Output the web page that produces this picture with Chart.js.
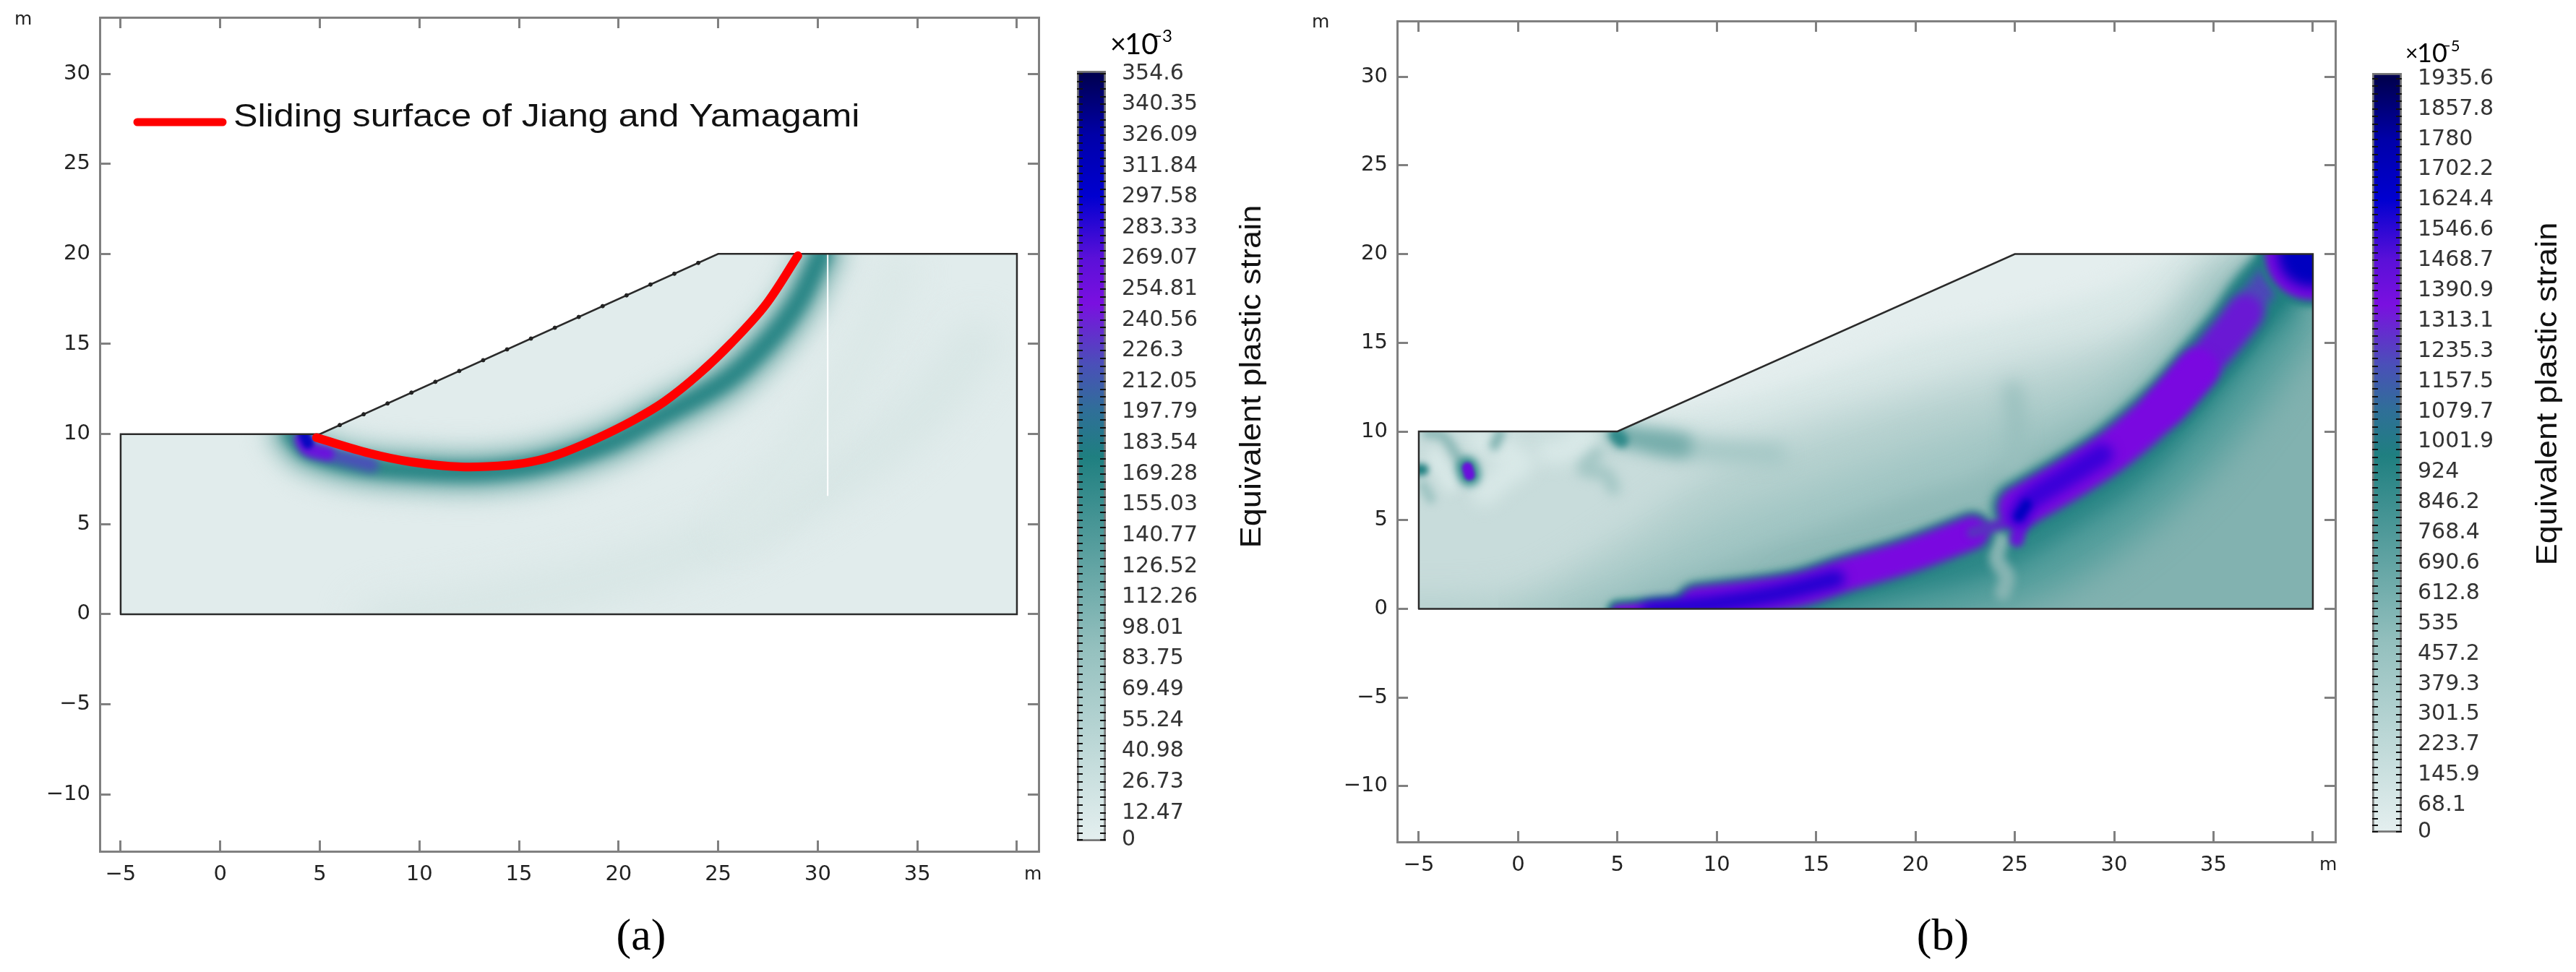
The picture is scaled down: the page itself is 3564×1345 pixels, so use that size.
<!DOCTYPE html>
<html>
<head>
<meta charset="utf-8">
<title>Equivalent plastic strain</title>
<script src="https://cdn.jsdelivr.net/npm/chart.js@4"></script>
<style>
  html, body { margin: 0; background: #fff; }
  canvas { position: absolute; top: 0; }
</style>
</head>
<body>
<canvas id="panelA"></canvas>
<canvas id="barA"></canvas>
<canvas id="panelB"></canvas>
<canvas id="barB"></canvas>
<script>
'use strict';

// axes
const xTicks = [-5, 0, 5, 10, 15, 20, 25, 30, 35, 40];
const yTicks = [-10, -5, 0, 5, 10, 15, 20, 25, 30];

// slope outline, same for both panels
const slopeX = [-5, 5, 25, 40];
const slopeY = [10, 10, 20, 20];
const outlineX = [-5, -5, 5, 25, 40, 40, -5];
const outlineY = [0, 10, 10, 20, 20, 0, 0];
const slopeDotX = [6, 7.2, 8.4, 9.6, 10.8, 12, 13.2, 14.4, 15.6, 16.8, 18, 19.2, 20.4, 21.6, 22.8, 24];
const slopeDotY = [10.5, 11.1, 11.7, 12.3, 12.9, 13.5, 14.1, 14.7, 15.3, 15.9, 16.5, 17.1, 17.7, 18.3, 18.9, 19.5];

// panel a: sliding surface and shear band
const slideX = [4.83, 7.5, 9.6, 12.07, 14.5, 16, 17.3, 19, 20.8, 22.3, 24, 25.7, 27.4, 29];
const slideY = [9.8, 8.93, 8.45, 8.18, 8.28, 8.55, 9, 9.8, 10.8, 11.8, 13.3, 15.1, 17.2, 19.9];
const bandAX = [3.6, 4.4, 6.8, 9.6, 13, 16, 19.5, 22, 25.3, 27.4, 29, 30.2];
const bandAY = [10, 9.1, 8.3, 8, 7.9, 8.3, 9.5, 10.9, 12.9, 15, 17.3, 20];
const spotAX = [4.1, 4.4, 5.4, 7.6];
const spotAY = [9.7, 9.2, 8.9, 8.3];
const blueAX = [4.2, 4.4];
const blueAY = [10, 9.5];
const faintAX = [8, 14, 20, 26, 31, 35, 38];
const faintAY = [-0.5, 0.6, 2.2, 4.6, 7.6, 11, 15];
const faintA2X = [26, 29, 32, 34];
const faintA2Y = [5, 9, 14, 19];
const crackX = [30.5, 30.5];
const crackY = [20, 6.6];

// panel b: contour levels above the band
const levelB1X = [-7, 5, 10, 15, 20, 25, 30, 34, 42];
const levelB1Y = [10.5, 10.5, 11.5, 13.2, 15.2, 16.5, 18.2, 20.5, 22];
const levelB2X = [-7, 5, 10, 15, 20, 25, 30, 33, 35.5, 42];
const levelB2Y = [10.8, 10.6, 10, 11.3, 12.8, 14.3, 15.5, 17, 20.5, 22];
const levelB3X = [-7, 0, 5, 10, 15, 20, 25, 29, 32, 35, 42];
const levelB3Y = [0.6, 1, 4, 7.8, 9.8, 11.4, 12.8, 14, 15.8, 19.5, 22];
const levelB4X = [-1, 5, 10, 15, 20, 25, 28.5, 32, 35.6, 42];
const levelB4Y = [-1, 2, 5, 7, 9, 10.8, 12, 14.6, 19, 22];
const levelB5X = [2, 6, 10, 15, 20, 23, 26.5, 30, 33.5, 36.8, 42];
const levelB5Y = [-1, 0.8, 2.5, 4.5, 6.5, 7.5, 9.5, 11.6, 15, 19.5, 22];

// panel b: slip band, two offset pieces
const bandB1X = [5, 8.3, 11, 14];
const bandB1Y = [-0.1, 0.2, 0.55, 1.05];
const bandB1aX = [9, 14, 16.35, 19.6, 22.85];
const bandB1aY = [0.3, 1.05, 1.87, 2.95, 4.3];
const neckBX = [22.85, 24.6, 25.3];
const neckBY = [4.3, 4.9, 5.4];
const rimB2X = [25.2, 27.7, 30.1, 32.6, 34.2, 35.9, 37.1, 38.2];
const rimB2Y = [5.7, 7.3, 9.06, 11.5, 13.5, 15.7, 17.6, 19];
const bandB2X = [25.2, 27.7, 30.1, 32.6, 34.2];
const bandB2Y = [5.7, 7.3, 9.06, 11.5, 13.5];
const bandB2bX = [32.6, 34.2, 35.9, 36.6];
const bandB2bY = [11.5, 13.5, 15.7, 16.7];
const bandB3X = [35.2, 35.9, 37.1, 38];
const bandB3Y = [14.8, 15.7, 17.6, 18.8];
const rimTopX = [36.8, 37.8, 38.4];
const rimTopY = [17.2, 19, 20.5];
const stubBX = [25.4, 25.1];
const stubBY = [5.4, 3.9];
const belowBX = [-7, 4.9, 8.3, 14, 19.6, 22.85, 25.2, 27.7, 30.1, 32.6, 34.2, 35.9, 37.1, 38.6, 42];
const belowBY = [-1, -0.3, 0, 0.8, 2.6, 4, 5.3, 7, 8.8, 11.2, 13.2, 15.4, 17.3, 17.6, 17.6];
const haloBX = [15, 20, 24, 27, 30, 33, 36, 38.5];
const haloBY = [-0.5, 0.6, 1.8, 3.2, 5.5, 8.5, 12.5, 16.5];
const halo2BX = [13, 19, 24, 27.5, 30.8, 33.5, 36.5, 38.5];
const halo2BY = [0.1, 1.6, 3, 5.2, 7.7, 10.8, 15, 17.5];
const coreB1X = [6.6, 10, 13, 16];
const coreB1Y = [-0.1, 0.3, 0.85, 1.7];
const coreB2X = [25.2, 25.6, 27.7, 29.4];
const coreB2Y = [5.2, 6, 7.5, 8.7];
const deepB2X = [25.2, 25.6];
const deepB2Y = [5.2, 5.9];
const cornerBX = [39.9, 40.1];
const cornerBY = [20, 20];
const streakBX = [24.3, 24.1, 24.6, 24.4];
const streakBY = [3.9, 2.8, 1.8, 0.9];
const fan1X = [5, 6.5, 8.2];
const fan1Y = [9.8, 9.5, 9.2];
const fan2X = [7, 10, 13];
const fan2Y = [9.3, 8.9, 8.7];
const tipBX = [4.95, 5.2];
const tipBY = [9.8, 9.5];
const wedgeBX = [24.9, 25.1, 25];
const wedgeBY = [12.3, 10, 7.5];
const streak1X = [-4.6, -3.8, -3, -2.7];
const streak1Y = [9.9, 9.75, 8.5, 8];
const streak2X = [-0.9, -1.2];
const streak2Y = [9.9, 9.2];
const streak3X = [-4.8, -4.4];
const streak3Y = [7, 6.2];
const streak4X = [4, 3.3, 4.4, 4.8];
const streak4Y = [8.8, 7.9, 7.6, 6.8];
const edgeSpotX = [-5.1, -4.8];
const edgeSpotY = [7.84, 7.84];
const cloud1X = [3, 3.6, 1.5];
const cloud1Y = [9.8, 9.2, 8.8];
const cloud2X = [-2, 0.2, -0.6, -1.7];
const cloud2Y = [9.6, 8.25, 7.6, 6.5];
const cloud3X = [-4.2, -3.4];
const cloud3Y = [8.6, 7];
const spotBX = [-2.55, -2.45];
const spotBY = [7.95, 7.55];

// colour bars
const labelsA = ['0', '12.47', '26.73', '40.98', '55.24', '69.49', '83.75', '98.01', '112.26', '126.52', '140.77', '155.03', '169.28', '183.54', '197.79', '212.05', '226.3', '240.56', '254.81', '269.07', '283.33', '297.58', '311.84', '326.09', '340.35', '354.6'];
const labelsB = ['0', '68.1', '145.9', '223.7', '301.5', '379.3', '457.2', '535', '612.8', '690.6', '768.4', '846.2', '924', '1001.9', '1079.7', '1157.5', '1235.3', '1313.1', '1390.9', '1468.7', '1546.6', '1624.4', '1702.2', '1780', '1857.8', '1935.6'];
const rampStops = [0, 0.25, 0.5, 0.56, 0.62, 0.7, 0.76, 0.84, 0.92, 1];
const rampColors = ['#e4efef', '#94c0be', '#1f7f80', '#2f6f98', '#4a50b8', '#7a10e0', '#5a10d8', '#0000d0', '#0000a8', '#000050'];

const tickFont = { family: 'DejaVu Sans', size: 29 };

// draw order is bottom first, chart.js paints index 0 last
function lineOf(xs, ys, color, width, blur) {
  return {
    data: xs.map((x, i) => ({ x: x, y: ys[i] })),
    showLine: true, pointRadius: 0, borderColor: color, borderWidth: width,
    tension: 0.35, borderCapStyle: 'round', blur: blur, domainClip: true
  };
}
function areaOf(xs, ys, color, blur) {
  return {
    data: xs.map((x, i) => ({ x: x, y: ys[i] })),
    showLine: true, pointRadius: 0, borderColor: 'transparent', borderWidth: 1,
    tension: 0.3, backgroundColor: color, fill: { value: -7 }, blur: blur, domainClip: true
  };
}
function domainOf(color) {
  const d = areaOf(slopeX, slopeY, color, 0);
  d.fill = { value: 0 };
  d.tension = 0;
  d.domainClip = false;
  return d;
}
function outlineOf() {
  const d = lineOf(outlineX, outlineY, '#2a2a2a', 2.5, 0);
  d.tension = 0;
  d.domainClip = false;
  return d;
}

const datasetsA = [
  domainOf('#e1ecec'),
  lineOf(faintAX, faintAY, '#d8e6e5', 70, 24),
  lineOf(faintA2X, faintA2Y, '#dbe8e7', 60, 20),
  lineOf(bandAX, bandAY, '#c4dbda', 84, 14),
  lineOf(bandAX, bandAY, '#8dbcba', 54, 11),
  lineOf(bandAX, bandAY, '#2a8686', 28, 8),
  lineOf(spotAX, spotAY, '#4a50b8', 20, 6),
  lineOf(spotAX.slice(0, 3), spotAY.slice(0, 3), '#6a14dc', 18, 4),
  lineOf(blueAX, blueAY, '#0808c0', 16, 3),
  lineOf(crackX, crackY, '#ffffff', 2, 0),
  outlineOf(),
  { data: slopeDotX.map((x, i) => ({ x: x, y: slopeDotY[i] })), pointRadius: 2.5, backgroundColor: '#222', borderColor: '#222', showLine: false },
  Object.assign(lineOf(slideX, slideY, '#ff0000', 12, 0), { domainClip: false })
];

const datasetsB = [
  domainOf('#e4eeee'),
  areaOf(levelB1X, levelB1Y, '#d8e7e6', 14),
  areaOf(levelB2X, levelB2Y, '#c8dcdb', 20),
  areaOf(levelB3X, levelB3Y, '#b4d0ce', 22),
  areaOf(levelB4X, levelB4Y, '#a2c6c4', 22),
  areaOf(levelB5X, levelB5Y, '#8fb9b7', 16),
  // mottled corner on the left
  lineOf(wedgeBX, wedgeBY, '#98bfbd', 24, 12),
  lineOf(cloud1X, cloud1Y, '#d8e8e7', 34, 11),
  lineOf(cloud2X, cloud2Y, '#d8e8e7', 34, 11),
  lineOf(cloud3X, cloud3Y, '#d8e8e7', 22, 8),
  lineOf(fan2X, fan2Y, '#a4c7c5', 30, 12),
  lineOf(fan1X, fan1Y, '#74acaa', 32, 10),
  lineOf(tipBX, tipBY, '#2f8a8a', 20, 5),
  lineOf(streak1X, streak1Y, '#8cb9b7', 14, 6),
  lineOf(streak2X, streak2Y, '#7fb2b0', 14, 6),
  lineOf(streak3X, streak3Y, '#9cc3c1', 14, 6),
  lineOf(streak4X, streak4Y, '#a4c7c5', 20, 8),
  lineOf(edgeSpotX, edgeSpotY, '#1f7f80', 16, 4),
  lineOf(spotBX, spotBY, '#2f8a8a', 30, 6),
  lineOf(spotBX, spotBY, '#6a10dc', 15, 2),
  // lower side of the band
  areaOf(belowBX, belowBY, '#82b2b0', 4),
  lineOf(haloBX, haloBY, '#4f9c9a', 90, 26),
  lineOf(halo2BX, halo2BY, '#2a8686', 46, 14),
  lineOf(streakBX, streakBY, '#86b4b2', 22, 6),
  // band itself, teal rim then purple then blue core
  lineOf(rimTopX, rimTopY, '#1f8080', 26, 6),
  lineOf(bandB1X, bandB1Y, '#1f8080', 30, 5),
  lineOf(bandB1aX, bandB1aY, '#1f8080', 60, 6),
  lineOf(rimB2X, rimB2Y, '#1f8080', 76, 7),
  lineOf(bandB1X, bandB1Y, '#7a08e0', 16, 4),
  lineOf(bandB1aX, bandB1aY, '#7a08e0', 46, 6),
  lineOf(neckBX, neckBY, '#5a30c0', 16, 4),
  lineOf(stubBX, stubBY, '#6a14d8', 20, 4),
  lineOf(bandB3X, bandB3Y, '#4d48b8', 38, 7),
  lineOf(bandB2bX, bandB2bY, '#6a18d4', 50, 7),
  lineOf(bandB2X, bandB2Y, '#7a08e0', 58, 6),
  lineOf(coreB1X, coreB1Y, '#2200d0', 24, 8),
  lineOf(coreB2X, coreB2Y, '#3a00d8', 30, 8),
  lineOf(deepB2X, deepB2Y, '#0000c0', 14, 4),
  // corner at the crest
  lineOf(cornerBX, cornerBY, '#1f8080', 146, 5),
  lineOf(cornerBX, cornerBY, '#7a08e0', 126, 5),
  lineOf(cornerBX, cornerBY, '#0000c0', 92, 9),
  outlineOf()
];

// blur and clip to the slope shape, has to run before the filler plugin
const fieldPlugin = {
  id: 'field',
  beforeDatasetDraw(chart, args) {
    const ds = chart.data.datasets[args.index];
    const ctx = chart.ctx;
    ctx.save();
    if (ds.domainClip) {
      const sx = chart.scales.x, sy = chart.scales.y;
      ctx.beginPath();
      ctx.moveTo(sx.getPixelForValue(-5), sy.getPixelForValue(0));
      slopeX.forEach((x, i) => ctx.lineTo(sx.getPixelForValue(x), sy.getPixelForValue(slopeY[i])));
      ctx.lineTo(sx.getPixelForValue(40), sy.getPixelForValue(0));
      ctx.closePath();
      ctx.clip();
    }
    if (ds.blur) ctx.filter = 'blur(' + ds.blur + 'px)';
  },
  afterDatasetDraw(chart) {
    chart.ctx.restore();
  },
  afterDraw(chart) {
    const ctx = chart.ctx;
    const notes = chart.options.plugins.notes || [];
    notes.forEach(n => {
      ctx.save();
      ctx.translate(n.x, n.y);
      if (n.rot) ctx.rotate(n.rot);
      if (n.sx) ctx.scale(n.sx, 1);
      if (n.t) {
        ctx.font = n.font;
        ctx.fillStyle = n.color || '#111';
        ctx.textAlign = n.align || 'left';
        ctx.textBaseline = 'middle';
        ctx.fillText(n.t, 0, 0);
      }
      if (n.len) {
        ctx.strokeStyle = n.color;
        ctx.lineWidth = n.width;
        ctx.lineCap = 'round';
        ctx.beginPath();
        ctx.moveTo(0, 0);
        ctx.lineTo(n.len, 0);
        ctx.stroke();
      }
      ctx.restore();
    });
  }
};
const filler = Chart.registry.plugins.get('filler');
Chart.unregister(filler);
Chart.register(fieldPlugin);
Chart.register(filler);

// fixed box size, and no tick padding leaking into the chart area
function setFixed(ticks, size, key) {
  return {
    afterBuildTicks: s => { s.ticks = ticks.map(v => ({ value: v })); },
    afterFit: s => {
      s[key] = size;
      s.paddingTop = s.paddingBottom = s.paddingLeft = s.paddingRight = 0;
    }
  };
}
function minusLabel(v) {
  return v < 0 ? '\u2212' + (-v) : String(v);
}

function panel(id, left, width, area, range, datasets, notes) {
  const el = document.getElementById(id);
  el.style.left = left + 'px';
  el.width = width;
  el.height = 1345;
  const axisGrid = { drawOnChartArea: false, tickLength: -15, color: '#808080', lineWidth: 3, z: 1 };
  const axisBorder = { color: '#808080', width: 3, z: 1 };
  return new Chart(el, {
    type: 'scatter',
    data: { datasets: datasets.slice().reverse() },
    options: {
      responsive: false, animation: false, devicePixelRatio: 1,
      layout: { autoPadding: false, padding: { left: 0, top: area.top, right: width - area.right, bottom: 0 } },
      plugins: { legend: { display: false }, tooltip: { enabled: false }, notes: notes },
      scales: {
        x: Object.assign({ type: 'linear', position: 'bottom', min: range.x0, max: range.x1, grid: axisGrid, border: axisBorder,
          // the 40 tick has the unit in place of a label
          ticks: { font: tickFont, color: '#222', padding: 30, maxRotation: 0, autoSkip: false, callback: v => v === 40 ? '' : minusLabel(v) } },
          setFixed(xTicks, 1345 - area.bottom, 'height')),
        y: Object.assign({ type: 'linear', position: 'left', min: range.y0, max: range.y1, grid: axisGrid, border: axisBorder,
          ticks: { font: tickFont, color: '#222', padding: 28, autoSkip: false, callback: minusLabel } },
          setFixed(yTicks, area.left, 'width')),
        xTop: Object.assign({ type: 'linear', position: 'top', min: range.x0, max: range.x1, grid: axisGrid, border: axisBorder,
          ticks: { display: false } }, setFixed(xTicks, 0, 'height')),
        yRight: Object.assign({ type: 'linear', position: 'right', min: range.y0, max: range.y1, grid: axisGrid, border: axisBorder,
          ticks: { display: false } }, setFixed(yTicks, 0, 'width'))
      }
    }
  });
}

function colourBar(id, left, width, area, range, labels, notes) {
  const el = document.getElementById(id);
  el.style.left = left + 'px';
  el.width = width;
  el.height = 1345;
  const values = labels.map(Number);
  const tickValues = [];
  values.forEach((v, i) => {
    tickValues.push(v);
    if (i + 1 < values.length) {
      const step = (values[i + 1] - v) / 4;
      for (let k = 1; k < 4; k++) tickValues.push(v + k * step);
    }
  });
  const top = values[values.length - 1];
  const grid = { drawOnChartArea: false, tickLength: -8, color: '#111', lineWidth: 2, z: 1 };
  return new Chart(el, {
    type: 'bar',
    data: {
      labels: [''],
      datasets: [{
        data: [[range.y0, range.y1]],
        barPercentage: 1, categoryPercentage: 1, borderWidth: 3, borderColor: '#777', borderSkipped: false,
        backgroundColor: c => {
          const s = c.chart.scales.y;
          if (!c.chart.chartArea || !s || !isFinite(s.getPixelForValue(top))) return '#888';
          const g = c.chart.ctx.createLinearGradient(0, s.getPixelForValue(0), 0, s.getPixelForValue(top));
          rampStops.forEach((p, i) => g.addColorStop(p, rampColors[i]));
          return g;
        }
      }]
    },
    options: {
      responsive: false, animation: false, devicePixelRatio: 1,
      layout: { autoPadding: false, padding: { left: area.left, top: area.top, right: 0, bottom: 1345 - area.bottom } },
      plugins: { legend: { display: false }, tooltip: { enabled: false }, notes: notes },
      scales: {
        x: { display: false },
        y: Object.assign({ type: 'linear', position: 'right', min: range.y0, max: range.y1, grid: grid, border: { display: false },
          ticks: { font: { family: 'DejaVu Sans', size: 30 }, color: '#333', padding: 30, autoSkip: false,
            callback: v => { const i = values.findIndex(w => Math.abs(w - v) < 1e-6); return i >= 0 ? labels[i] : ''; } } },
          setFixed(tickValues, width - area.right, 'width')),
        yLeft: Object.assign({ type: 'linear', position: 'left', min: range.y0, max: range.y1, grid: grid, border: { display: false },
          ticks: { display: false } }, setFixed(tickValues, 0, 'width'))
      }
    }
  });
}

const captionFont = '62px "Liberation Serif"';
const titleFont = '40px "Liberation Sans"';
const unitFont = '25px "DejaVu Sans"';

panel('panelA', 0, 1480, { left: 138, top: 24, right: 1437, bottom: 1178 },
  { x0: -6.05, x1: 41.09, y0: -13.16, y1: 33.13 }, datasetsA, [
    { t: 'm', x: 20, y: 27, font: unitFont, color: '#222' },
    { t: 'm', x: 1417, y: 1210, font: unitFont, color: '#222' },
    { x: 190, y: 169, len: 118, color: '#ff0000', width: 11 },
    { t: 'Sliding surface of Jiang and Yamagami', x: 323, y: 163, sx: 1.115, font: '45px "Liberation Sans"', color: '#111' },
    { t: '(a)', x: 887, y: 1298, font: captionFont, align: 'center', color: '#000' }
  ]);

colourBar('barA', 1480, 302, { left: 10, top: 98, right: 50, bottom: 1164 },
  { y0: -0.67, y1: 355.9 }, labelsA, [
    { t: '\u00d7', x: 56, y: 62, font: '38px "Lato"', color: '#000' },
    { t: '10', x: 76, y: 62, font: '40px "Lato"', color: '#000' },
    { t: '\u22123', x: 114, y: 50, font: '24px "Lato"', color: '#000' },
    { t: 'Equivalent plastic strain', x: 253, y: 521, rot: -Math.PI / 2, sx: 1.13, font: titleFont, align: 'center', color: '#111' }
  ]);

panel('panelB', 1782, 1490, { left: 151, top: 29, right: 1449, bottom: 1165 },
  { x0: -6.09, x1: 41.13, y0: -13.14, y1: 33.14 }, datasetsB, [
    { t: 'm', x: 33, y: 31, font: unitFont, color: '#222' },
    { t: 'm', x: 1427, y: 1197, font: unitFont, color: '#222' },
    { t: '(b)', x: 906, y: 1298, font: captionFont, align: 'center', color: '#000' }
  ]);

colourBar('barB', 3272, 292, { left: 10, top: 101, right: 51, bottom: 1152 },
  { y0: -1.9, y1: 1950.5 }, labelsB, [
    { t: '\u00d7', x: 56, y: 74, font: '30px "Lato"', color: '#000' },
    { t: '10', x: 72, y: 74, font: '36px "Lato"', color: '#000' },
    { t: '\u22125', x: 106, y: 64, font: '22px "Lato"', color: '#000' },
    { t: 'Equivalent plastic strain', x: 254, y: 545, rot: -Math.PI / 2, sx: 1.13, font: titleFont, align: 'center', color: '#111' }
  ]);
</script>
</body>
</html>
